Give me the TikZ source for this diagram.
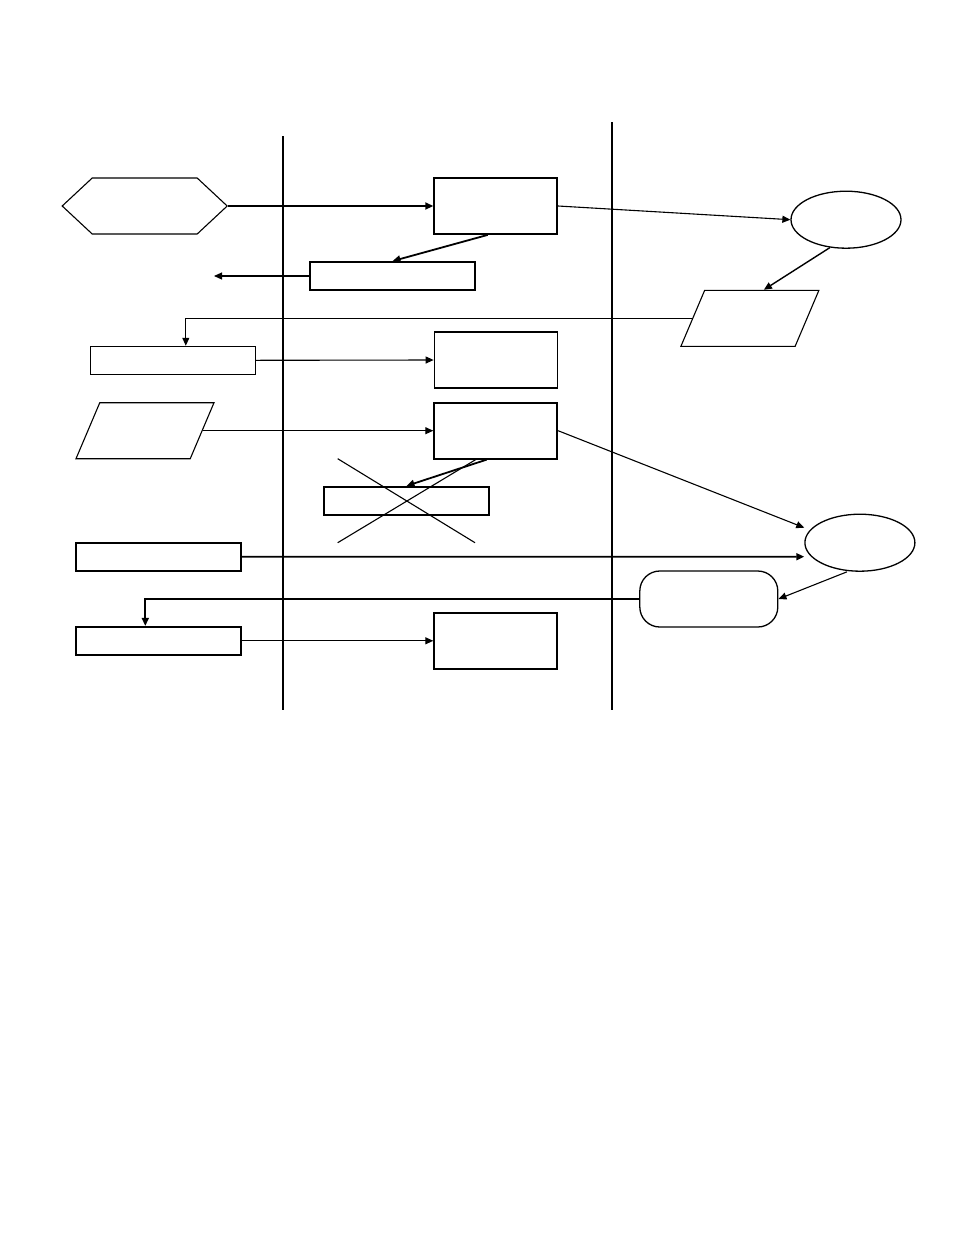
\documentclass[tikz,border=0pt]{standalone}
\usepackage{tikz}
\usetikzlibrary{arrows.meta,shapes.geometric,shapes.symbols}

\begin{document}
\begin{tikzpicture}[x=1pt,y=-1pt,
  thin line/.style={line width=1.1pt},
  thick line/.style={line width=1.8pt},
  arr/.style={-{Triangle[length=8pt,width=7pt]}},
  bigbox/.style={draw,minimum width=123pt,minimum height=56pt},
  slimbox/.style={draw,minimum width=165pt,minimum height=28pt},
  hexa/.style={draw,thin line,signal,signal to=west and east,signal pointer angle=86,minimum width=165pt,minimum height=56pt},
  oval/.style={draw,line width=1.3pt,ellipse,minimum width=110pt,minimum height=57pt},
  slant/.style={draw,thin line,trapezium,trapezium left angle=67,trapezium right angle=113,trapezium stretches body,inner xsep=0pt,inner ysep=28pt,minimum width=138pt},
  pill/.style={draw,line width=1.3pt,rounded corners=20pt,minimum width=138pt,minimum height=56pt}]
\tikzstyle{every node}+=[inner sep=0pt]
\useasboundingbox (0,0) rectangle (954,1235);
\draw [thick line] (283,136) -- (283,710);
\draw [thin line] (612,122) -- (612,710);
\node [hexa] (start) at (144.7,206) {};
\node [bigbox,thick line] (A) at (495.7,206) {};
\node [slimbox,thick line] (B) at (392.5,276) {};
\node [oval] (E1) at (846,219.7) {};
\node [slant] (P1) at (749.9,318.3) {};
\node [slimbox,thin line] (C) at (172.8,360.3) {};
\node [bigbox,thin line] (D) at (495.7,360) {};
\node [slant] (P2) at (145,430.7) {};
\node [bigbox,thick line] (E) at (495.7,430.7) {};
\node [slimbox,thick line] (F) at (406.5,500.8) {};
\node [slimbox,thick line] (G) at (158.8,556.8) {};
\node [oval] (E2) at (859.9,542.7) {};
\node [pill] (R) at (708.8,599) {};
\node [slimbox,thick line] (H) at (158.8,640.8) {};
\node [bigbox,thick line] (I) at (495.7,640.8) {};
\coordinate (Bout) at (214,276);
\draw [arr,thick line] (start.east) -- (A.west);
\draw [arr,thick line] ([xshift=-8pt]A.south) -- (B.north);
\draw [arr,thin line] (B.west) -- (Bout);
\draw [arr,thin line] (A.east) -- (E1.west);
\draw [arr,line width=1.4pt] (E1.240) -- ([xshift=14pt]P1.north);
\draw [arr,thin line] (P1.west) -| ([xshift=13pt]C.north);
\draw [arr,thin line] (C.east) -- (D.west);
\draw [arr,thin line] (P2.east) -- (E.west);
\draw [arr,thick line] ([xshift=-9pt]E.south) -- (F.north);
\draw [thin line] (337.7,458.7) -- (475,542.7);
\draw [thin line] (337.7,542.7) -- (476.7,459);
\draw [arr,thin line] (E.east) -- ([yshift=15pt]E2.west);
\draw [arr,thick line] (G.east) -- ([yshift=-14pt]E2.west);
\draw [arr,thin line] ([xshift=-13pt]E2.south) -- (R.east);
\draw [arr,thick line] (R.west) -| ([xshift=-13.5pt]H.north);
\draw [arr,thin line] (H.east) -- (I.west);
\end{tikzpicture}
\end{document}
